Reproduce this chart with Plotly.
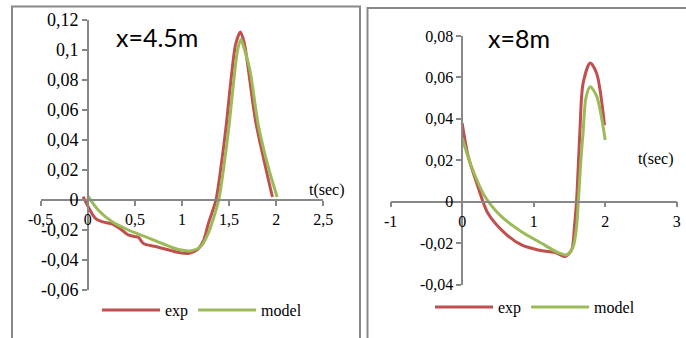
import plotly.graph_objects as go

# ---------------- data ----------------
# panel 1 : x = 4.5 m
t1_exp = [-0.05, 0.0, 0.08, 0.15, 0.26, 0.34, 0.43, 0.50, 0.54, 0.59, 0.72, 0.86, 0.965, 1.07, 1.16, 1.23, 1.28, 1.36, 1.42, 1.47, 1.52, 1.57, 1.62, 1.66, 1.70, 1.78, 1.89, 1.96]
v1_exp = [0.0022, -0.004, -0.0122, -0.0144, -0.016, -0.019, -0.0233, -0.0244, -0.025, -0.029, -0.031, -0.0333, -0.035, -0.0356, -0.0333, -0.0267, -0.0156, 0.0, 0.025, 0.05, 0.08, 0.104, 0.112, 0.105, 0.089, 0.053, 0.021, 0.002]
t1_mod = [0.0, 0.11, 0.255, 0.43, 0.61, 0.79, 0.965, 1.10, 1.20, 1.28, 1.33, 1.39, 1.45, 1.50, 1.55, 1.59, 1.625, 1.66, 1.72, 1.81, 1.92, 2.01]
v1_mod = [0.0027, -0.0067, -0.0144, -0.020, -0.0244, -0.029, -0.033, -0.0338, -0.031, -0.022, -0.013, 0.0, 0.025, 0.050, 0.080, 0.100, 0.107, 0.101, 0.087, 0.050, 0.021, 0.002]

# panel 2 : x = 8 m
t2_exp = [0.0, 0.085, 0.22, 0.36, 0.60, 0.83, 1.06, 1.30, 1.44, 1.53, 1.57, 1.60, 1.645, 1.69, 1.79, 1.88, 1.99]
v2_exp = [0.0379, 0.0217, 0.0072, -0.0056, -0.0153, -0.0209, -0.0233, -0.0246, -0.0265, -0.0233, -0.012, 0.0008, 0.033, 0.057, 0.067, 0.062, 0.037]
t2_mod = [0.0, 0.13, 0.32, 0.55, 0.83, 1.11, 1.34, 1.46, 1.55, 1.60, 1.62, 1.66, 1.69, 1.73, 1.79, 1.88, 2.0]
v2_mod = [0.0306, 0.0169, 0.0024, -0.0072, -0.0145, -0.0201, -0.0246, -0.0257, -0.022, -0.012, -0.0024, 0.02, 0.033, 0.05, 0.0555, 0.051, 0.0298]

# ticks
x1_ticks = [-0.5, 0, 0.5, 1, 1.5, 2, 2.5]
x1_labels = ["-0,5", "0", "0,5", "1", "1,5", "2", "2,5"]
y1_ticks = [-0.06, -0.04, -0.02, 0, 0.02, 0.04, 0.06, 0.08, 0.1, 0.12]
y1_labels = ["-0,06", "-0,04", "-0,02", "0", "0,02", "0,04", "0,06", "0,08", "0,1", "0,12"]
x2_ticks = [-1, 0, 1, 2, 3]
x2_labels = ["-1", "0", "1", "2", "3"]
y2_ticks = [-0.04, -0.02, 0, 0.02, 0.04, 0.06, 0.08]
y2_labels = ["-0,04", "-0,02", "0", "0,02", "0,04", "0,06", "0,08"]

titles = ["x=4.5m", "x=8m"]
series_names = ["exp", "model"]

# ---------------- layout ----------------
W, H = 686, 338
RED = "#C0504D"
GREEN = "#9BBB59"
AXC = "#888888"
SERIF = "Liberation Serif"

x1_range = [-0.5, 2.5]
y1_range = [-0.06, 0.12]
x2_range = [-1, 3]
y2_range = [-0.04, 0.08]

x1_dom = [40.7 / W, 323.3 / W]
y1_dom = [(H - 290) / H, (H - 20) / H]
x2_dom = [390.7 / W, 676.7 / W]
y2_dom = [(H - 284.5) / H, (H - 36) / H]


def frac(val, rng, dom):
    return dom[0] + (val - rng[0]) / (rng[1] - rng[0]) * (dom[1] - dom[0])


fig = go.Figure()
fig.add_trace(go.Scatter(x=t1_exp, y=v1_exp, mode="lines", name=series_names[0],
                         line=dict(color=RED, width=3, shape="spline", smoothing=0.8),
                         xaxis="x", yaxis="y", legend="legend"))
fig.add_trace(go.Scatter(x=t1_mod, y=v1_mod, mode="lines", name=series_names[1],
                         line=dict(color=GREEN, width=3, shape="spline", smoothing=0.8),
                         xaxis="x", yaxis="y", legend="legend"))
fig.add_trace(go.Scatter(x=t2_exp, y=v2_exp, mode="lines", name=series_names[0],
                         line=dict(color=RED, width=3, shape="spline", smoothing=0.8),
                         xaxis="x2", yaxis="y2", legend="legend2"))
fig.add_trace(go.Scatter(x=t2_mod, y=v2_mod, mode="lines", name=series_names[1],
                         line=dict(color=GREEN, width=3, shape="spline", smoothing=0.8),
                         xaxis="x2", yaxis="y2", legend="legend2"))


def axis_style(size):
    return dict(showgrid=False, zeroline=False, showline=True, linecolor=AXC, linewidth=1.5,
                ticks="outside", ticklen=5, tickcolor=AXC, tickwidth=1.5, automargin=False,
                tickfont=dict(family=SERIF, size=size, color="black"))


fig.update_layout(
    width=W, height=H,
    margin=dict(l=0, r=0, t=0, b=0, pad=0, autoexpand=False),
    paper_bgcolor="white", plot_bgcolor="rgba(0,0,0,0)",
    xaxis=dict(domain=x1_dom, range=x1_range, anchor="free",
               position=frac(0, y1_range, y1_dom), tickvals=x1_ticks, ticktext=x1_labels,
               **axis_style(16)),
    yaxis=dict(domain=y1_dom, range=y1_range, anchor="free",
               position=frac(0, x1_range, x1_dom), tickvals=y1_ticks, ticktext=y1_labels,
               **axis_style(18)),
    xaxis2=dict(domain=x2_dom, range=x2_range, anchor="free",
                position=frac(0, y2_range, y2_dom), tickvals=x2_ticks, ticktext=x2_labels,
                **axis_style(16)),
    yaxis2=dict(domain=y2_dom, range=y2_range, anchor="free",
                position=frac(0, x2_range, x2_dom), tickvals=y2_ticks, ticktext=y2_labels,
                **axis_style(16)),
    legend=dict(orientation="h", x=97 / W, y=(H - 310) / H, xanchor="left", yanchor="middle",
                font=dict(family=SERIF, size=16, color="black"), itemwidth=58,
                bgcolor="rgba(0,0,0,0)"),
    legend2=dict(orientation="h", x=430 / W, y=(H - 307) / H, xanchor="left", yanchor="middle",
                 font=dict(family=SERIF, size=16, color="black"), itemwidth=58,
                 bgcolor="rgba(0,0,0,0)"),
    showlegend=True,
)

# panel frames
fig.add_shape(type="rect", xref="paper", yref="paper",
              x0=12 / W, x1=360 / W, y0=-0.1, y1=(H - 6.5) / H,
              line=dict(color=AXC, width=2), layer="below")
fig.add_shape(type="rect", xref="paper", yref="paper",
              x0=367.5 / W, x1=1.1, y0=-0.1, y1=(H - 8) / H,
              line=dict(color=AXC, width=2), layer="below")

# titles and axis labels
ann_common = dict(xref="paper", yref="paper", showarrow=False, xanchor="center", yanchor="middle")
fig.add_annotation(text=titles[0], x=157 / W, y=(H - 37) / H,
                   font=dict(family="Lato", size=25, color="black"), **ann_common)
fig.add_annotation(text=titles[1], x=519 / W, y=(H - 38.5) / H,
                   font=dict(family="Lato", size=25, color="black"), **ann_common)
fig.add_annotation(text="t(sec)", x=327 / W, y=(H - 190) / H,
                   font=dict(family=SERIF, size=16, color="black"), **ann_common)
fig.add_annotation(text="t(sec)", x=655.5 / W, y=(H - 159) / H,
                   font=dict(family=SERIF, size=16, color="black"), **ann_common)

fig.write_html("out.html", config={"displayModeBar": False},
               post_script="document.body.style.margin='0';")
